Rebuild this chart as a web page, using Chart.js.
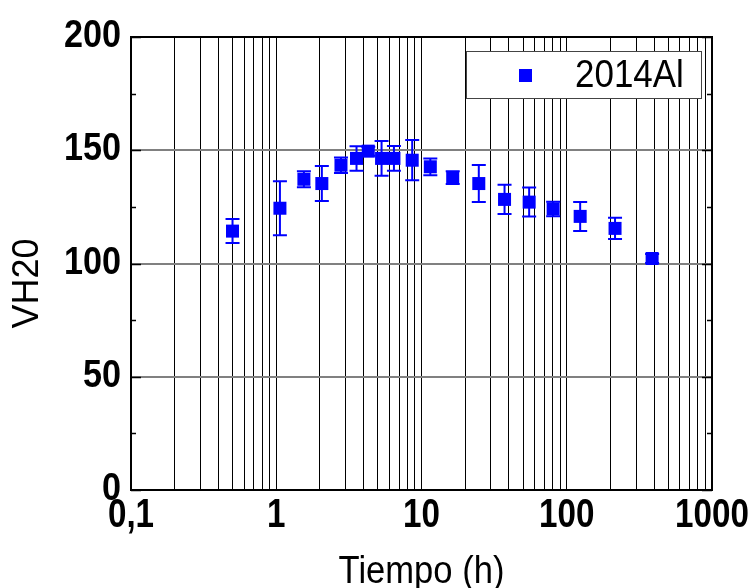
<!DOCTYPE html>
<html>
<head>
<meta charset="utf-8">
<script src="https://cdn.jsdelivr.net/npm/chart.js@4.4.1/dist/chart.umd.min.js"></script>
<style>
  html, body { margin: 0; padding: 0; background: #ffffff; }
  #wrap { width: 754px; height: 588px; }
</style>
</head>
<body>
<div id="wrap"><canvas id="c" width="754" height="588"></canvas></div>
<script>
// ---- data ----
const seriesName = '2014Al';
const tiempo = [0.5, 1.06, 1.55, 2.06, 2.79, 3.57, 4.30, 5.31, 6.46, 8.63, 11.5, 16.4, 24.8, 37.3, 55.1, 80.6, 123.7, 215, 387];
const vh20 = [114.3, 124.4, 137.2, 135.3, 143.4, 146.4, 149.6, 146.4, 146.4, 145.6, 142.7, 137.9, 135.3, 128.3, 127.1, 124.1, 120.8, 115.5, 102.2];
const vh20Err = [5.3, 11.9, 3.5, 7.7, 3.4, 5.4, 2.0, 7.7, 5.5, 8.9, 3.7, 2.8, 8.2, 6.5, 6.4, 3.2, 6.4, 4.7, 2.0];
const xDecades = [0.1, 1, 10, 100];
const xMultipliers = [1, 2, 3, 4, 5, 6, 7, 8, 9];
const xMax = 1000;
const xLabelValues = [0.1, 1, 10, 100, 1000];
const xLabelTexts = ['0,1', '1', '10', '100', '1000'];
const yMin = 0, yMax = 200, yStep = 25, yLabelStep = 50;
const xTitle = 'Tiempo (h)';
const yTitle = 'VH20';

const xTickValues = [];
xDecades.forEach(d => xMultipliers.forEach(m => xTickValues.push(parseFloat((d * m).toPrecision(6)))));
xTickValues.push(xMax);

const BLUE = '#0000ff';
const FONT = "'Liberation Sans', Arial, Helvetica, sans-serif";

function txt(ctx, s, x, y, size, weight, align, sx) {
  ctx.save();
  ctx.translate(x, y);
  ctx.scale(sx, 1);
  ctx.font = weight + ' ' + size + 'px ' + FONT;
  ctx.textAlign = align;
  ctx.textBaseline = 'alphabetic';
  ctx.fillStyle = '#000';
  ctx.fillText(s, 0, 0);
  ctx.restore();
}

const errorBars = {
  id: 'errorBars',
  beforeDatasetsDraw(chart) {
    const ctx = chart.ctx, xs = chart.scales.x, ys = chart.scales.y;
    ctx.save();
    ctx.strokeStyle = BLUE;
    ctx.lineWidth = 2;
    const cap = 7;
    tiempo.forEach((t, i) => {
      const x = xs.getPixelForValue(t);
      const y1 = ys.getPixelForValue(vh20[i] + vh20Err[i]);
      const y2 = ys.getPixelForValue(vh20[i] - vh20Err[i]);
      ctx.beginPath();
      ctx.moveTo(x, y1); ctx.lineTo(x, y2);
      ctx.moveTo(x - cap, y1); ctx.lineTo(x + cap, y1);
      ctx.moveTo(x - cap, y2); ctx.lineTo(x + cap, y2);
      ctx.stroke();
    });
    ctx.restore();
  }
};

const frame = {
  id: 'frame',
  afterDatasetsDraw(chart) {
    const ctx = chart.ctx, a = chart.chartArea, ys = chart.scales.y;
    ctx.save();
    ctx.strokeStyle = '#000';
    ctx.lineWidth = 1.5;
    ys.ticks.forEach(t => {
      const y = Math.round(ys.getPixelForValue(t.value)) + 0.5;
      const len = (t.value % yLabelStep === 0) ? 10 : 5;
      ctx.beginPath();
      ctx.moveTo(a.left, y); ctx.lineTo(a.left + len, y);
      ctx.moveTo(a.right, y); ctx.lineTo(a.right - len, y);
      ctx.stroke();
    });
    ctx.lineWidth = 2;
    ctx.strokeRect(a.left, a.top, a.right - a.left, a.bottom - a.top);
    ctx.restore();
  },
  afterDraw(chart) {
    const ctx = chart.ctx, a = chart.chartArea, xs = chart.scales.x, ys = chart.scales.y;
    // legend box
    const bx = a.right - 246, by = a.top + 14, bw = 235, bh = 47;
    ctx.save();
    ctx.fillStyle = '#fff';
    ctx.fillRect(bx, by, bw, bh);
    ctx.strokeStyle = '#444';
    ctx.lineWidth = 1;
    ctx.strokeRect(bx + 0.5, by + 0.5, bw, bh);
    ctx.fillStyle = BLUE;
    ctx.fillRect(bx + 53, by + 18, 13, 13);
    ctx.restore();
    txt(ctx, seriesName, bx + 109, by + 36, 38, 'normal', 'left', 0.92);

    // y tick labels
    ys.ticks.forEach(t => {
      if (t.value % yLabelStep !== 0) return;
      txt(ctx, String(t.value), a.left - 10, ys.getPixelForValue(t.value) + 10, 39, 'bold', 'right', 0.876);
    });
    // x tick labels
    xLabelValues.forEach((v, i) => {
      txt(ctx, xLabelTexts[i], xs.getPixelForValue(v), a.bottom + 37, 41.5, 'bold', 'center', 0.8);
    });
    // x axis title
    txt(ctx, xTitle, (a.left + a.right) / 2, a.bottom + 93, 39, 'normal', 'center', 0.886);
    // y axis title
    ctx.save();
    ctx.translate(38, (a.top + a.bottom) / 2 + 20);
    ctx.rotate(-Math.PI / 2);
    txt(ctx, yTitle, 0, 0, 36, 'normal', 'center', 1);
    ctx.restore();
  }
};

new Chart(document.getElementById('c'), {
  type: 'scatter',
  data: {
    datasets: [{
      label: seriesName,
      data: tiempo.map((t, i) => ({ x: t, y: vh20[i] })),
      pointStyle: 'rect',
      pointRadius: 9.2,
      pointHoverRadius: 9.2,
      backgroundColor: BLUE,
      borderColor: BLUE,
      borderWidth: 0,
      showLine: false
    }]
  },
  options: {
    responsive: false,
    devicePixelRatio: 1,
    animation: false,
    layout: { padding: { left: 0, right: 42, top: 37, bottom: 0 } },
    plugins: { legend: { display: false }, tooltip: { enabled: false } },
    scales: {
      x: {
        type: 'logarithmic',
        min: 0.1, max: xMax,
        afterBuildTicks(scale) { scale.ticks = xTickValues.map(v => ({ value: v })); },
        afterFit(scale) { scale.height = 98; scale.paddingRight = 0; scale.paddingLeft = 0; },
        grid: { color: '#000', lineWidth: 1, drawTicks: false },
        border: { display: false },
        ticks: { display: false, autoSkip: false },
        title: { display: false, text: xTitle }
      },
      y: {
        min: yMin, max: yMax,
        afterFit(scale) { scale.width = 131; scale.paddingTop = 0; scale.paddingBottom = 0; },
        grid: {
          drawTicks: false,
          color: c => (c.tick && c.tick.value % yLabelStep === 0) ? '#808080' : 'rgba(0,0,0,0)',
          lineWidth: 2
        },
        border: { display: false },
        ticks: { display: false, stepSize: yStep },
        title: { display: false, text: yTitle }
      }
    }
  },
  plugins: [errorBars, frame]
});
</script>
</body>
</html>
